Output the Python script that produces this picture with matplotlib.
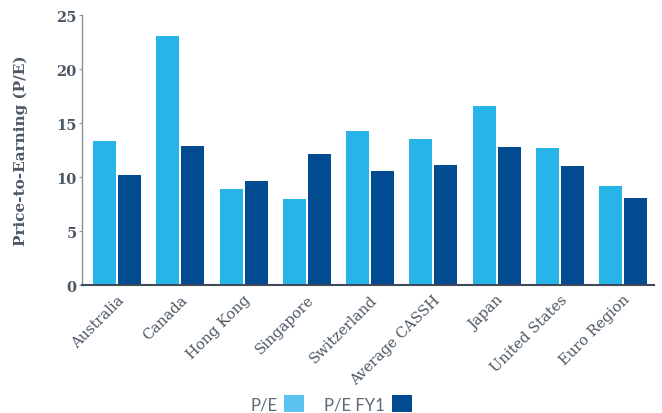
import matplotlib.pyplot as plt
import numpy as np

# Market P/E ratios, trailing vs. forward (FY1)
markets = ['Australia', 'Canada', 'Hong Kong', 'Singapore', 'Switzerland',
           'Average CASSH', 'Japan', 'United States', 'Euro Region']
pe = [13.3, 23.1, 8.9, 8.0, 14.3, 13.5, 16.6, 12.7, 9.2]
pe_fy1 = [10.2, 12.9, 9.6, 12.1, 10.6, 11.1, 12.8, 11.0, 8.1]
yticks = [0, 5, 10, 15, 20, 25]

LIGHT = '#27b5e9'
DARK = '#024b91'
TEXT = '#4d5865'

fig = plt.figure(figsize=(6.62, 4.14), dpi=100)
ax = fig.add_axes([0.124, 0.309, 0.864, 0.652])

x = np.arange(len(markets))
w = 0.363
ax.bar(x - 0.197, pe, w, color=LIGHT, label='P/E', zorder=2)
ax.bar(x + 0.197, pe_fy1, w, color=DARK, label='P/E FY1', zorder=2)

ax.set_xlim(-0.553, 8.49)
ax.set_ylim(0, 25)
ax.set_yticks(yticks)
ax.set_yticklabels([str(t) for t in yticks], family='DejaVu Serif',
                   fontweight='bold', fontsize=10.5, color=TEXT)
ax.tick_params(axis='y', length=2, color='#999999', pad=2)
ax.tick_params(axis='x', length=0, pad=5)

ax.set_xticks(x)
ax.set_xticklabels(markets, rotation=45, ha='right', rotation_mode='anchor',
                   family='DejaVu Serif', fontsize=10.5, color=TEXT)

ax.set_ylabel('Price-to-Earning (P/E)', family='DejaVu Serif', fontweight='bold',
              fontsize=11, color=TEXT, labelpad=20)

for side in ('top', 'right'):
    ax.spines[side].set_visible(False)
ax.spines['left'].set_color('#8a8f96')
ax.spines['left'].set_linewidth(1.0)
ax.spines['bottom'].set_color('#3e4a57')
ax.spines['bottom'].set_linewidth(1.5)

leg = fig.legend(loc='lower center', bbox_to_anchor=(0.5, -0.035), ncol=2,
                 frameon=False, markerfirst=False, handlelength=1.2, handleheight=1.2,
                 handletextpad=0.4, columnspacing=1.2,
                 prop={'family': 'Lato', 'size': 12}, labelcolor='#5f6973')
leg.legend_handles[0].set_facecolor('#5bc3ee')

fig.savefig('out.png', dpi=100)
